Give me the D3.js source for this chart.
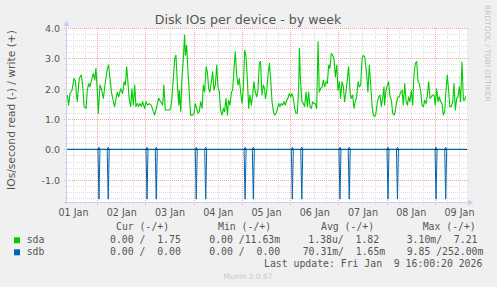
<!DOCTYPE html>
<html><head><meta charset="utf-8">
<script src="https://cdn.jsdelivr.net/npm/d3@7"></script>
<style>html,body{margin:0;padding:0;background:#f0f0f0;}svg{display:block;}text{white-space:pre;}</style>
</head><body><svg id="chart" width="497" height="287"></svg>
<script>
// ---------- DATA ----------
const titleText = "Disk IOs per device - by week";
const yAxisLabel = "IOs/second read (-) / write (+)";
const yTickValues = [-1, 0, 1, 2, 3, 4];
const yTickLabels = ["-1.0", "0.0", "1.0", "2.0", "3.0", "4.0"];
const xTickDays = [1, 2, 3, 4, 5, 6, 7, 8, 9];
const xTickLabels = ["01 Jan", "02 Jan", "03 Jan", "04 Jan", "05 Jan", "06 Jan", "07 Jan", "08 Jan", "09 Jan"];
// time in hours since 2026-01-01 00:00
const timeStartHour = 9, timeEndHour = 208;
// sda write IOs/s: [hour, value]
const sdaWrite = [[9.2,1.79],[9.8,1.46],[10.5,1.85],[11.5,1.95],[12.5,2.34],[13.2,2.25],[13.6,1.89],[14.1,1.57],[15.1,2.34],[16.1,2.45],[16.8,2.12],[17.5,1.41],[18.5,1.35],[19.1,1.95],[19.8,2.17],[20.4,2.06],[21.4,2.34],[22.1,2.5],[22.8,2.28],[23.4,2.67],[24.1,1.89],[24.6,1.19],[25.4,2.12],[26.1,2.0],[27.1,1.68],[28.1,2.23],[29.1,2.67],[29.7,2.78],[30.4,2.34],[31.1,1.89],[32.1,1.57],[32.7,1.41],[34.0,1.89],[34.7,1.73],[35.7,2.0],[36.7,1.84],[37.4,2.23],[38.0,2.12],[38.7,2.72],[39.3,2.23],[40.0,1.62],[40.7,1.41],[41.3,2.0],[42.0,1.46],[42.7,2.12],[43.3,1.41],[44.0,1.51],[44.6,1.41],[45.3,1.51],[46.0,1.41],[46.6,1.57],[47.6,1.35],[48.3,1.57],[49.0,1.46],[49.9,1.51],[50.9,1.46],[51.9,1.26],[52.6,1.13],[53.6,1.41],[54.6,1.68],[55.6,1.57],[56.6,1.46],[57.2,2.12],[57.9,1.30],[58.9,1.30],
[59.9,1.30],[60.6,1.35],[61.2,1.68],[61.9,2.34],[62.6,3.0],[63.2,3.1],[63.9,2.17],[64.6,1.46],[64.9,1.95],[65.6,1.24],[66.2,2.34],[66.9,3.0],[67.5,3.77],[67.9,3.1],[68.5,3.43],[69.2,2.56],[69.9,1.79],[70.5,1.13],[71.5,1.13],[72.2,1.19],[72.8,1.51],[73.5,1.35],[74.2,1.19],[74.8,1.24],[75.5,1.57],[76.2,1.35],[76.8,2.12],[77.5,1.89],[78.2,2.72],[78.8,2.56],[79.5,2.0],[80.1,1.89],[80.8,2.23],[81.5,2.56],[82.1,1.95],[82.8,2.12],[83.5,2.78],[84.1,2.06],[84.8,1.89],[85.4,1.30],[86.1,1.13],[86.8,1.35],[87.4,1.24],[88.1,1.68],[88.8,1.13],[89.4,1.62],[90.1,1.46],[90.8,1.89],[91.4,1.95],[92.1,2.67],[92.7,3.22],[93.4,2.45],[94.1,2.12],[94.7,2.34],[95.4,1.89],[96.1,1.51],[96.7,2.0],[97.4,3.27],[98.0,3.1],[98.7,2.34],[99.4,1.35],[100.0,1.79],[100.7,1.46],[101.4,1.79],[102.0,2.23],[102.7,1.89],[103.4,1.73],[104.0,1.95],[104.7,2.84],[105.3,2.89],[106.0,1.79],[106.7,2.12],[107.3,2.0],
[107.7,1.68],[108.3,1.89],[109.0,2.45],[109.7,2.84],[110.3,2.34],[111.0,1.57],[111.7,1.24],[112.3,1.13],[113.0,1.19],[113.6,1.30],[114.3,1.51],[115.0,1.41],[115.6,1.51],[116.3,1.46],[117.0,1.57],[117.6,1.46],[118.3,1.62],[118.9,1.68],[119.6,1.84],[120.3,1.73],[120.9,1.84],[121.6,1.68],[122.3,1.35],[122.9,1.19],[123.6,1.19],[124.3,2.12],[124.6,3.33],[125.2,2.23],[125.9,1.57],[126.6,1.51],[127.2,1.41],[127.9,1.89],[128.6,1.41],[129.2,1.89],[129.9,1.41],[130.6,1.35],[131.2,1.57],[131.9,1.51],[132.5,1.51],[133.2,1.35],[133.9,3.55],[134.5,1.89],[135.2,2.0],[135.9,2.06],[136.5,2.28],[137.2,2.06],[137.9,2.23],[138.5,2.17],[139.2,2.78],[139.8,2.67],[140.5,3.16],[141.2,3.1],[141.8,3.0],[142.5,2.39],[143.2,2.78],[143.8,1.95],[144.5,2.23],[145.1,1.68],[145.8,2.23],[146.5,2.06],[147.1,1.57],[147.8,1.89],[148.5,2.34],[149.1,2.72],[149.8,1.89],[150.4,1.68],[151.1,1.79],[151.8,1.35],[152.4,1.57],[153.1,1.73],[153.8,2.23],[154.4,2.06],[155.1,2.12],[155.8,3.0],[156.4,3.1],[157.1,3.05],
[158.1,2.45],[158.7,1.89],[159.4,2.78],[160.1,2.12],[160.7,1.46],[161.4,1.13],[162.1,1.08],[162.7,1.19],[163.4,1.57],[164.1,1.73],[164.7,1.79],[165.4,1.41],[166.0,1.68],[166.7,2.06],[167.0,1.46],[167.7,1.95],[168.4,2.12],[169.0,2.23],[169.7,1.73],[170.4,1.62],[171.0,1.19],[171.7,1.13],[172.3,1.24],[173.0,1.57],[173.7,1.73],[174.3,1.73],[175.0,1.89],[175.7,1.95],[176.3,1.46],[177.0,2.17],[177.7,1.57],[178.3,1.46],[179.0,1.73],[179.6,1.57],[180.3,1.95],[181.0,1.46],[181.6,2.45],[182.3,2.84],[183.0,2.89],[183.6,2.23],[184.3,2.17],[185.0,1.89],[185.6,1.46],[186.3,1.41],[187.0,1.62],[187.6,1.51],[188.3,1.79],[188.9,2.23],[189.6,1.68],[190.3,1.73],[190.9,1.79],[191.6,1.79],[192.2,1.46],[192.9,2.0],[193.6,1.57],[194.2,1.73],[194.9,1.57],[195.6,1.51],[196.2,1.13],[196.9,1.24],[197.6,2.0],[198.2,2.45],[198.9,1.89],[199.5,1.41],[200.2,1.41],[200.9,1.57],[201.5,2.17],[202.2,1.30],[202.9,1.68],[203.5,1.73],[204.2,2.06],[204.8,1.57],[205.5,2.89],[206.2,1.62],[206.8,1.62],[207.3,1.75]];
// sda read IOs/s (near zero)
const sdaRead = [[9.2,0.0],[207.3,0.0]];
// sdb read spikes (hour, IOs/s) and small write bumps
const sdbSpikeHours = [24.9,29.5,48.8,53.4,73.3,78.0,97.6,101.7,121.1,125.8,144.8,149.4,168.7,173.4,192.6,197.4];
const sdbReadSpikeValues = [1.64,1.64,1.64,1.64,1.64,1.64,1.64,1.64,1.64,1.64,1.64,1.64,1.64,1.64,1.64,1.64];
const sdbWriteSpikeValues = [0.07,0.07,0.07,0.07,0.07,0.07,0.07,0.07,0.07,0.07,0.07,0.07,0.07,0.07,0.07,0.07];
// legend
const legendNames = ["sda", "sdb"];
const legendHeaders = ["Cur (-/+)", "Min (-/+)", "Avg (-/+)", "Max (-/+)"];
const legendCur = ["0.00 /  1.75", "0.00 /  0.00"];
const legendMin = ["0.00 /11.63m", "0.00 /  0.00"];
const legendAvg = ["1.38u/  1.82", "70.31m/  1.65m"];
const legendMax = ["3.10m/  7.21", "9.85 /252.00m"];
const lastUpdate = "Last update: Fri Jan  9 16:00:20 2026";
const muninVersion = "Munin 2.0.67";
const rrdCredit = "RRDTOOL / TOBI OETIKER";

// ---------- DRAW ----------
const svg = d3.select("#chart");
const T0 = Date.UTC(2026, 0, 1);
const hd = h => new Date(T0 + h * 3600e3);
const L = 67, R = 467, TOP = 28, BOT = 202.5;
const x = d3.scaleUtc().domain([hd(timeStartHour), hd(timeEndHour)]).range([L, R]);
const y = d3.scaleLinear().domain([-1.75, 4.0]).range([BOT, TOP]);
const FONT = "DejaVu Sans, Verdana, sans-serif";
const MONO = "DejaVu Sans Mono, monospace";
const TXT = "#555555";

svg.append("rect").attr("width", 497).attr("height", 287).attr("fill", "#f0f0f0");
svg.append("rect").attr("x", L).attr("y", TOP).attr("width", R - L).attr("height", BOT - TOP).attr("fill", "#ffffff");

// minor grid
const minorY = d3.range(-8, 21).filter(k => k % 5 !== 0).map(k => k / 5);
const minorXH = d3.range(12, timeEndHour, 6).filter(h => h % 24 !== 0);
const majorXH = d3.range(24, timeEndHour, 24);
const g = svg.append("g").attr("shape-rendering", "crispEdges");
g.selectAll(".mny").data(minorY).join("line")
  .attr("x1", L - 2).attr("x2", R + 2).attr("y1", d => Math.round(y(d)) + 0.5).attr("y2", d => Math.round(y(d)) + 0.5)
  .attr("stroke", "#dcdcdc").attr("stroke-dasharray", "1,1");
g.selectAll(".mnx").data(minorXH).join("line")
  .attr("y1", TOP).attr("y2", BOT + 2).attr("x1", d => Math.round(x(hd(d))) + 0.5).attr("x2", d => Math.round(x(hd(d))) + 0.5)
  .attr("stroke", "#dcdcdc").attr("stroke-dasharray", "1,1");
g.selectAll(".mjy").data(yTickValues).join("line")
  .attr("x1", L - 3).attr("x2", R + 2).attr("y1", d => Math.round(y(d)) + 0.5).attr("y2", d => Math.round(y(d)) + 0.5)
  .attr("stroke", "#f2a4a4").attr("stroke-dasharray", "1,1");
g.selectAll(".mjx").data(majorXH).join("line")
  .attr("y1", TOP).attr("y2", BOT + 3).attr("x1", d => Math.round(x(hd(d))) + 0.5).attr("x2", d => Math.round(x(hd(d))) + 0.5)
  .attr("stroke", "#f2a4a4").attr("stroke-dasharray", "1,1");

const line = d3.line().x(d => x(hd(d[0]))).y(d => y(d[1]));
// sda
svg.append("path").datum(sdaRead.map(d => [d[0], -d[1]])).attr("d", line).attr("fill", "none").attr("stroke", "#00cc00").attr("stroke-width", 1);
svg.append("path").datum(sdaWrite).attr("d", line).attr("fill", "none").attr("stroke", "#00cc00").attr("stroke-width", 1.1).attr("stroke-linejoin", "round");
// zero line
svg.append("line").attr("x1", L).attr("x2", R).attr("y1", Math.round(y(0)) + 0.5).attr("y2", Math.round(y(0)) + 0.5)
  .attr("stroke", "#000").attr("shape-rendering", "crispEdges");
// sdb
function spikeSeries(vals, sign) {
  const pts = [[timeStartHour, 0]];
  sdbSpikeHours.forEach((h, i) => { pts.push([h - 0.5, 0], [h, sign * vals[i]], [h + 0.5, 0]); });
  pts.push([207.3, 0]);
  return pts;
}
svg.append("path").datum(spikeSeries(sdbReadSpikeValues, -1)).attr("d", line).attr("fill", "none").attr("stroke", "#0066b3").attr("stroke-width", 1);
svg.append("path").datum(spikeSeries(sdbWriteSpikeValues, 1)).attr("d", line).attr("fill", "none").attr("stroke", "#0066b3").attr("stroke-width", 1);

// axes lines + arrows
const AX = "#c8cff5";
svg.append("line").attr("x1", 66.5).attr("x2", 66.5).attr("y1", BOT + 2).attr("y2", 25).attr("stroke", AX);
svg.append("line").attr("x1", L - 3).attr("x2", 469).attr("y1", BOT).attr("y2", BOT).attr("stroke", AX);
svg.append("path").attr("d", "M66.5,20.5 L69.5,26 L63.5,26 Z").attr("fill", AX);
svg.append("path").attr("d", `M473.5,${BOT} L468,${BOT - 3} L468,${BOT + 3} Z`).attr("fill", AX);

// y tick labels
const yAxis = d3.axisLeft(y).tickValues(yTickValues).tickFormat((d, i) => yTickLabels[i]).tickSize(0).tickPadding(0);
const ya = svg.append("g").attr("transform", "translate(60,0)").call(yAxis);
ya.select(".domain").remove();
ya.selectAll("text").attr("font-family", FONT).attr("font-size", "9.5px").attr("fill", TXT).attr("dy", "0.35em");

// x tick labels (centered at noon)
const xAxis = d3.axisBottom(x).tickValues(xTickDays.map(d => hd((d - 1) * 24 + 12))).tickFormat((d, i) => xTickLabels[i]).tickSize(0).tickPadding(0);
const xa = svg.append("g").attr("transform", "translate(0,208)").call(xAxis);
xa.select(".domain").remove();
xa.selectAll("text").attr("font-family", FONT).attr("font-size", "9.6px").attr("fill", TXT).attr("dy", "0.8em");

// title
svg.append("text").attr("x", 248).attr("y", 24.3).attr("text-anchor", "middle")
  .attr("font-family", FONT).attr("font-size", "12.6px").attr("fill", TXT).text(titleText);
// y label
svg.append("text").attr("transform", "translate(15.3,110) rotate(-90)").attr("text-anchor", "middle")
  .attr("font-family", FONT).attr("font-size", "10.7px").attr("fill", TXT).text(yAxisLabel);
// rrdtool credit
svg.append("text").attr("transform", "translate(485.2,53.3) rotate(90)").attr("text-anchor", "middle")
  .attr("font-family", FONT).attr("font-size", "7.5px").attr("fill", "#c4c4c4").text(rrdCredit);

// legend
const lg = svg.append("g").attr("font-family", MONO).attr("font-size", "9.8px").attr("fill", TXT);
const hdrX = [116, 218, 321, 422.7];
legendHeaders.forEach((t, i) => lg.append("text").attr("x", hdrX[i]).attr("y", 230).text(t));
const colors = ["#00cc00", "#0066b3"];
const rowY = [243.3, 255.3];
legendNames.forEach((n, i) => {
  lg.append("rect").attr("x", 14).attr("y", rowY[i] - 6).attr("width", 6).attr("height", 6).attr("fill", colors[i]);
  lg.append("text").attr("x", 26.7).attr("y", rowY[i]).text(n);
  lg.append("text").attr("x", 110).attr("y", rowY[i]).text(legendCur[i]);
  lg.append("text").attr("x", 209.3).attr("y", rowY[i]).text(legendMin[i]);
  lg.append("text").attr("x", i === 0 ? 308.3 : 302.7).attr("y", rowY[i]).text(legendAvg[i]);
  lg.append("text").attr("x", 406.7).attr("y", rowY[i]).text(legendMax[i]);
});
lg.append("text").attr("x", 482.3).attr("y", 266.5).attr("text-anchor", "end").text(lastUpdate);
svg.append("text").attr("x", 248).attr("y", 279).attr("text-anchor", "middle")
  .attr("font-family", FONT).attr("font-size", "7.5px").attr("fill", "#c8c8c8").text(muninVersion);
</script></body></html>
